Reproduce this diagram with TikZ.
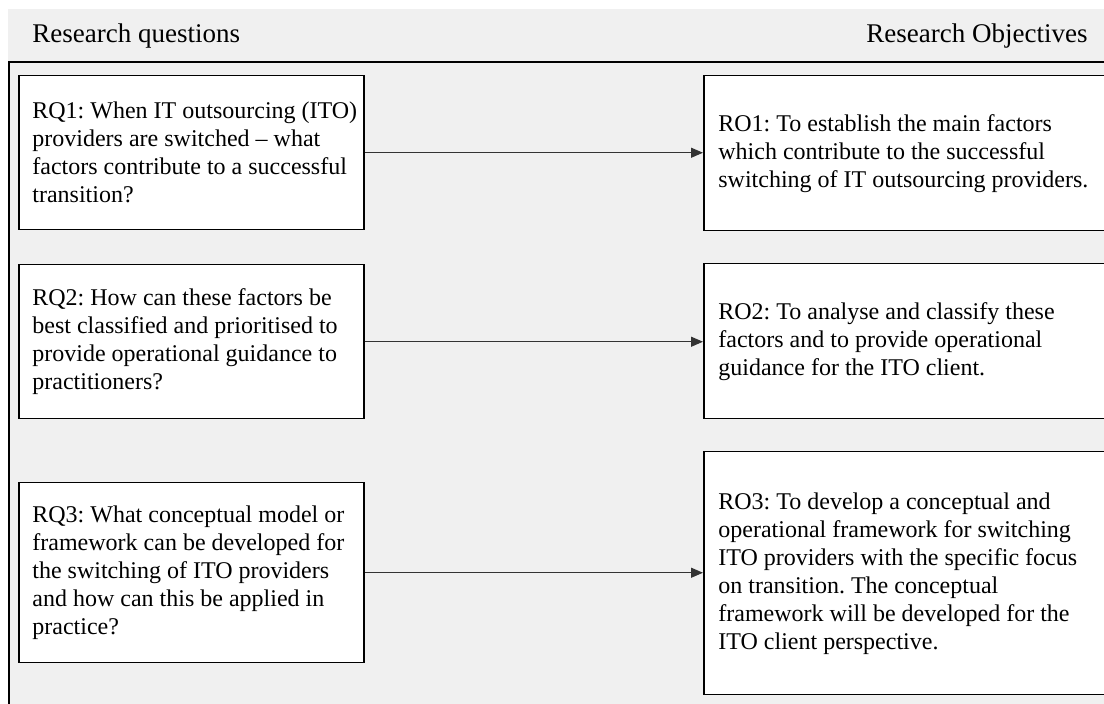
\documentclass[tikz,border=0pt]{standalone}
\usepackage{fontspec}
\setmainfont{Liberation Serif}
\usetikzlibrary{arrows.meta}
\definecolor{panelgray}{HTML}{F0F0F0}
\definecolor{arrowgray}{HTML}{333333}
\frenchspacing
\begin{document}
\begin{tikzpicture}[x=0.5pt,y=-0.5pt,
  boxline/.style={draw=black,line width=0.75pt},
  qbox/.style={boxline,fill=white,inner sep=0pt,anchor=north west,minimum width=172.5pt},
  obox/.style={boxline,fill=white,inner sep=0pt,anchor=north west,minimum width=203.5pt},
  boxtext/.style={anchor=west,align=left,inner sep=0pt,font={\fontsize{12pt}{14pt}\selectfont}},
  headtext/.style={inner sep=0pt,font={\fontsize{13.5pt}{16pt}\selectfont}},
  link/.style={draw=arrowgray,line width=0.6pt,-{Triangle[length=6pt,width=5pt]}}
]
\useasboundingbox (0,0) rectangle (1104,704);
\clip (0,0) rectangle (1104,704);

% panel background and outer frame
\fill[panelgray] (8,9) rectangle (1110,710);
\draw[boxline] (1120,62) -- (9,62) -- (9,720);

% column headings
\node[headtext,anchor=base west] (hq) at (32,43) {Research questions};
\node[headtext,anchor=base east] (ho) at (1088,43) {Research Objectives};

% research question boxes
\node[qbox,minimum height=77pt] (q1) at (18,75) {};
\node[qbox,minimum height=77pt] (q2) at (18,264) {};
\node[qbox,minimum height=90pt] (q3) at (18,482) {};

% research objective boxes
\node[obox,minimum height=77.5pt] (o1) at (703,75) {};
\node[obox,minimum height=77.5pt] (o2) at (703,263) {};
\node[obox,minimum height=121.5pt] (o3) at (703,451) {};

% box texts
\node[boxtext] (tq1) at ([xshift=7pt]q1.west) {RQ1: When IT outsourcing (ITO)\\providers are switched – what\\factors contribute to a successful\\transition?};
\node[boxtext] (tq2) at ([xshift=7pt]q2.west) {RQ2: How can these factors be\\best classified and prioritised to\\provide operational guidance to\\practitioners?};
\node[boxtext] (tq3) at ([xshift=7pt]q3.west) {RQ3: What conceptual model or\\framework can be developed for\\the switching of ITO providers\\and how can this be applied in\\practice?};
\node[boxtext] (to1) at ([xshift=7.5pt]o1.west) {RO1: To establish the main factors\\which contribute to the successful\\switching of IT outsourcing providers.};
\node[boxtext] (to2) at ([xshift=7.5pt]o2.west) {RO2: To analyse and classify these\\factors and to provide operational\\guidance for the ITO client.};
\node[boxtext] (to3) at ([xshift=7.5pt]o3.west) {RO3: To develop a conceptual and\\operational framework for switching\\ITO providers with the specific focus\\on transition. The conceptual\\framework will be developed for the\\ITO client perspective.};

% question-to-objective links
\draw[link] (q1.east) -- (q1.east -| o1.west);
\draw[link] (q2.east) -- (q2.east -| o2.west);
\draw[link] (q3.east) -- (q3.east -| o3.west);
\end{tikzpicture}
\end{document}
